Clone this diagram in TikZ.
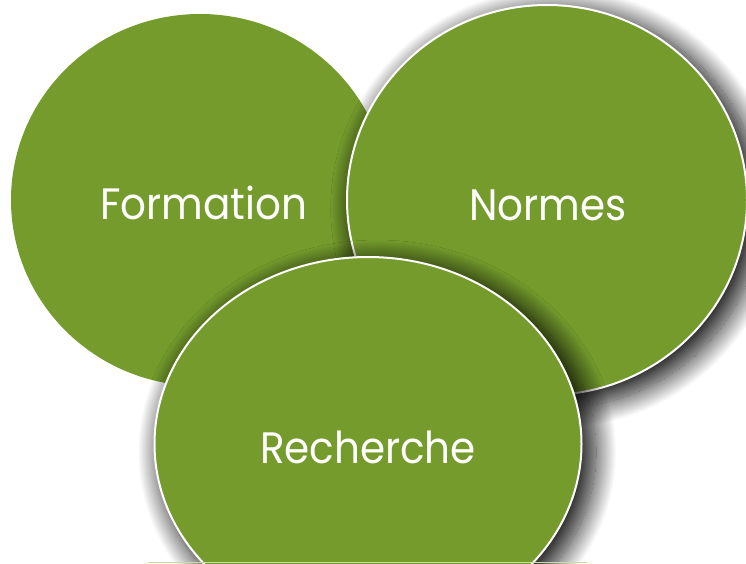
\documentclass[tikz,border=0pt]{standalone}
\usepackage{fontspec}
\setmainfont{Poppins}
\usetikzlibrary{shapes.geometric,shadows.blur}
\definecolor{olive}{RGB}{116,155,44}
\definecolor{lightline}{RGB}{200,222,160}
\tikzset{
  bubble/.style={ellipse, fill=olive, inner sep=0pt, text=white},
  rimmed/.style={draw=white, line width=2pt,
    blur shadow={shadow xshift=9pt, shadow yshift=-8pt, shadow blur radius=20pt,
      shadow blur steps=30, shadow opacity=90, shadow scale=1.025}},
  label/.style={text=white, font=\fontsize{44}{50}\selectfont, inner sep=0pt}
}
\begin{document}
\begin{tikzpicture}[x=1pt,y=-1pt]
\useasboundingbox (0,0) rectangle (746,563);
\clip (0,0) rectangle (746,563);
\node[bubble, minimum width=378pt, minimum height=372pt] (formation) at (200,200) {};
\node[bubble, rimmed, minimum width=400pt, minimum height=390pt] (normes) at (547,200) {};
\node[bubble, rimmed, minimum width=427pt, minimum height=374pt] (recherche) at (368,444) {};
\node[label] (tf) at (204,203) {\scalebox{0.92}[1]{Formation}};
\node[label] (tn) at (548,205) {\scalebox{0.92}[1]{Normes}};
\node[label] (tr) at (368,447) {\scalebox{0.92}[1]{Recherche}};
\coordinate (la) at (148,562.5);
\coordinate (lb) at (587,562.5);
\draw[lightline, line width=1pt] (la) -- (lb);
\end{tikzpicture}
\end{document}
